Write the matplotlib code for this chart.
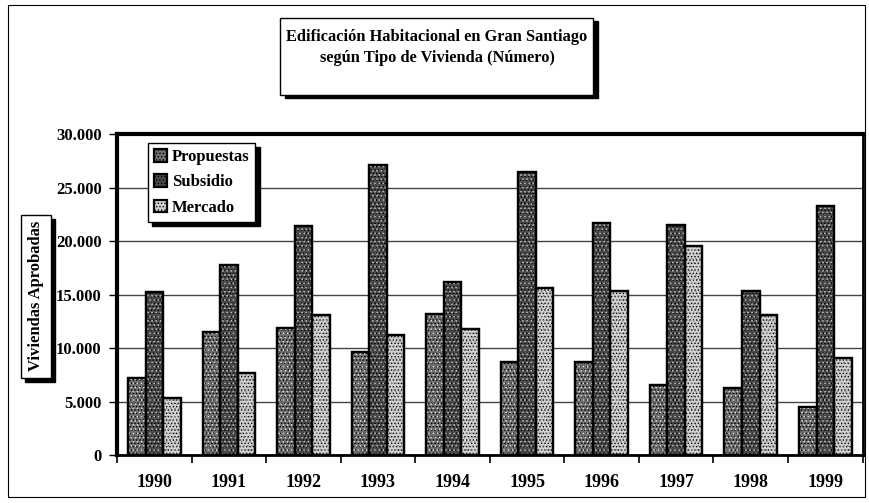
import numpy as np
import matplotlib
matplotlib.use('Agg')
import matplotlib.pyplot as plt
from matplotlib.patches import Rectangle
from matplotlib.ticker import FuncFormatter, FixedLocator

# Data
years = ['1990', '1991', '1992', '1993', '1994', '1995', '1996', '1997', '1998', '1999']
propuestas = [7200, 11500, 11900, 9600, 13200, 8700, 8700, 6500, 6300, 4500]
subsidio = [15200, 17800, 21400, 27100, 16200, 26500, 21700, 21500, 15300, 23300]
mercado = [5300, 7700, 13100, 11200, 11800, 15600, 15300, 19500, 13100, 9100]
series_names = ['Propuestas', 'Subsidio', 'Mercado']

plt.rcParams['font.family'] = ['Liberation Serif', 'DejaVu Serif']
plt.rcParams['font.weight'] = 'bold'
plt.rcParams['hatch.linewidth'] = 0.6

fig = plt.figure(figsize=(8.7, 5.03), dpi=100)
ax = fig.add_axes([0.1345, 0.0954, 0.857, 0.638])

x = np.arange(len(years))
width = 0.235
face = ['#6e6e6e', '#4a4a4a', '#d2d2d2']
hatch_col = ['#d8d8d8', '#bdbdbd', '#8a8a8a']
for i, (vals, name) in enumerate(zip([propuestas, subsidio, mercado], series_names)):
    pos = x + (i - 1) * width
    ax.bar(pos, vals, width, label=name, color=face[i], edgecolor='black',
           linewidth=1.6, hatch='.....', zorder=3)
    # speckle texture in a lighter/darker tone
    ax.bar(pos, vals, width, color='none', edgecolor=hatch_col[i],
           hatch='....', linewidth=0, zorder=3.5)
    ax.bar(pos, vals, width, color='none', edgecolor='black',
           linewidth=1.6, zorder=4)

ax.set_xlim(-0.5, len(years) - 0.5)
ax.set_ylim(0, 30000)
ax.yaxis.set_major_locator(FixedLocator(range(0, 30001, 5000)))
ax.yaxis.set_major_formatter(FuncFormatter(lambda v, _: '{:,.0f}'.format(v).replace(',', '.')))
ax.set_xticks(x)
ax.set_xticklabels(years)
ax.xaxis.set_minor_locator(FixedLocator(np.arange(-0.5, len(years), 1)))
ax.tick_params(axis='x', which='major', length=0, pad=14, labelsize=13)
ax.tick_params(axis='x', which='minor', length=6, width=1.2, direction='out')
ax.tick_params(axis='y', length=6, width=1, direction='out', labelsize=12, pad=5)

ax.grid(axis='y', color='#444444', linewidth=1, zorder=0)
for side in ['left', 'top']:
    ax.spines[side].set_linewidth(3)
for side in ['right', 'bottom']:
    ax.spines[side].set_linewidth(2)

leg = ax.legend(loc='upper left', bbox_to_anchor=(0.03, 0.998), fontsize=12,
                frameon=True, fancybox=False, edgecolor='black', handlelength=0.8,
                handleheight=0.8, handletextpad=0.3, borderpad=0.35, labelspacing=0.55,
                shadow={'color': 'black', 'alpha': 1, 'ox': 3, 'oy': -3})
leg.get_frame().set_linewidth(1)
leg.set_zorder(10)

# outer border of the whole chart
fig.patches.append(Rectangle((0.009, 0.012), 0.985, 0.978, transform=fig.transFigure,
                             fill=False, edgecolor='black', linewidth=0.8))

# title box with shadow
fig.patches.append(Rectangle((285 / 870, 1 - 98 / 503), 0.36, 77 / 503, transform=fig.transFigure,
                             facecolor='black', edgecolor='black', zorder=1))
fig.patches.append(Rectangle((280 / 870, 1 - 95 / 503), 0.36, 77 / 503, transform=fig.transFigure,
                             facecolor='white', edgecolor='black', linewidth=1, zorder=2))
fig.text(437 / 870, 1 - 37 / 503, 'Edificación Habitacional en Gran Santiago', ha='center',
         va='center', fontsize=11.8, fontweight='bold', zorder=3)
fig.text(437 / 870, 1 - 58 / 503, 'según Tipo de Vivienda (Número)', ha='center',
         va='center', fontsize=11.8, fontweight='bold', zorder=3)

# y label box with shadow
fig.patches.append(Rectangle((25 / 870, 1 - 382 / 503), 30 / 870, 163 / 503, transform=fig.transFigure,
                             facecolor='black', edgecolor='black', zorder=1))
fig.patches.append(Rectangle((21 / 870, 1 - 378 / 503), 30 / 870, 163 / 503, transform=fig.transFigure,
                             facecolor='white', edgecolor='black', linewidth=1, zorder=2))
fig.text(36 / 870, 1 - 296 / 503, 'Viviendas Aprobadas', rotation=90, ha='center',
         va='center', fontsize=12, fontweight='bold', zorder=3)

fig.savefig('out.png', dpi=100)
